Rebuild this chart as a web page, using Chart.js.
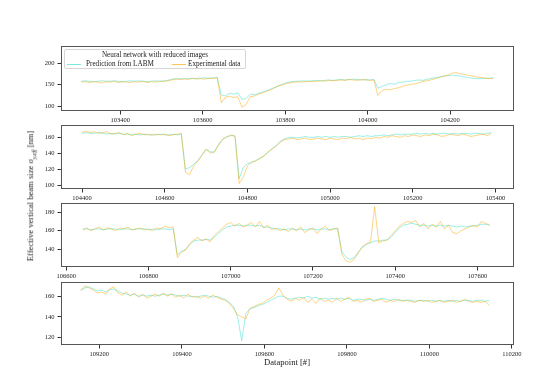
<!DOCTYPE html>
<html><head><meta charset="utf-8">
<script src="https://cdn.jsdelivr.net/npm/chart.js@4"></script>
<style>
html,body{margin:0;padding:0;background:#fff;}
#wrap{position:relative;width:560px;height:387px;overflow:hidden;font-family:'Liberation Serif','DejaVu Serif',serif;color:#222;}
canvas{position:absolute;left:0;}
#ylab{position:absolute;left:31px;top:196px;transform:translate(-50%,-50%) rotate(-90deg);white-space:nowrap;font-size:8.6px;}
#ylab sub{font-size:6px;}
#xlab{position:absolute;left:287px;top:362px;transform:translate(-50%,-50%);white-space:nowrap;font-size:8.6px;}
#legend{position:absolute;left:64px;top:49px;width:182px;height:20px;border:1px solid #d6d6d6;border-radius:2px;background:rgba(255,255,255,0.85);font-size:7.2px;box-sizing:border-box;}
#legend .title{position:absolute;left:0;width:100%;top:1px;text-align:center;}
#legend .item{position:absolute;top:10px;white-space:nowrap;}
#legend .ln{position:absolute;top:5px;height:0;border-top:1px solid;}
</style></head>
<body>
<div id="wrap">
  <canvas id="c1" width="560" height="90"></canvas>
  <canvas id="c2" width="560" height="90"></canvas>
  <canvas id="c3" width="560" height="90"></canvas>
  <canvas id="c4" width="560" height="90"></canvas>
  <div id="legend">
    <div class="title">Neural network with reduced images</div>
    <div class="ln" style="left:2px;width:14px;top:13.5px;border-color:rgba(64,224,208,0.7)"></div>
    <div class="item" style="left:21px">Prediction from LABM</div>
    <div class="ln" style="left:107px;width:14px;top:13.5px;border-color:rgba(255,165,0,0.65)"></div>
    <div class="item" style="left:123px">Experimental data</div>
  </div>
  <div id="ylab">Effective vertical beam size <i>σ</i><sub><i>y,eff</i></sub> [nm]</div>
  <div id="xlab">Datapoint [#]</div>
</div>
<script>
const STEP = 10;
const p1Start = 103305, p2Start = 104400, p3Start = 106640, p4Start = 109155;

const p1Pred = [158,159,158,157,158,159,158,158,159,158,157,158,159,158,159,158,157,158,159,158,159,160,
163,164,164,163,165,164,165,165,166,165,166,167,
126,124,130,128,131,116,118,128,
127,130,133,136,140,144,148,152,155,
157,158,158,159,158,159,160,159,160,161,160,161,162,161,162,163,162,161,162,161,162,
142,146,150,153,151,155,156,158,158,160,161,160,163,165,166,168,170,171,172,171,170,168,166,165,164,164,165,165,166];
const p1Exp = [156,157,155,157,156,154,157,156,158,155,157,156,155,157,156,158,155,157,156,158,157,159,
161,163,162,164,162,165,163,164,163,165,164,166,
108,121,123,120,122,98,104,122,
124,128,131,135,138,143,147,150,153,
155,156,157,156,158,157,158,159,158,160,159,160,161,160,162,161,160,162,161,160,161,
125,137,139,138,141,143,146,149,151,152,155,158,159,162,164,167,170,172,177,178,175,174,172,170,168,167,165,164,165];

const p2Pred = [165,166,165,165,166,165,164,165,164,165,164,164,163,164,163,164,163,164,163,164,163,163,164,163,164,
120,122,126,131,138,145,142,141,150,157,161,162,162,
108,122,127,128,131,133,137,141,146,150,155,158,
160,160,159,160,161,160,160,161,160,161,160,161,160,161,161,160,161,162,161,162,
161,162,162,163,162,163,164,163,164,164,164,165,164,165,164,165,164,165,165,164,
165,164,165,165,164,165,165,164,165,166];
const p2Exp = [166,168,166,167,165,166,167,164,165,166,163,165,162,164,165,163,164,162,164,163,164,162,163,164,165,
116,113,124,130,137,145,140,142,151,158,160,163,161,
102,110,124,129,130,134,136,142,145,149,154,157,
158,159,157,158,159,157,158,159,158,157,159,158,157,159,158,160,158,159,157,159,
158,160,159,161,160,162,161,160,162,161,163,162,161,163,162,164,163,161,162,164,
163,162,164,163,161,162,163,164,162,165];

const p3Pred = [162,162,161,162,162,161,162,162,162,161,162,162,161,162,162,162,161,162,161,162,162,161,162,
134,138,140,145,149,150,150,151,150,153,157,161,164,165,166,166,165,166,166,165,166,164,164,163,162,162,161,162,
162,161,162,161,162,162,161,162,162,161,162,162,
138,132,129,131,137,142,145,147,149,149,150,150,153,158,163,166,167,168,167,166,
166,165,166,165,166,165,166,165,164,165,164,165,165,166,167,167,166];
const p3Exp = [161,163,160,162,164,161,163,162,160,163,162,164,161,162,163,161,162,160,163,162,165,163,164,
131,137,139,146,150,153,149,151,148,155,159,163,167,169,165,168,164,166,169,164,170,163,166,161,163,160,162,159,
163,160,164,158,161,163,157,162,165,160,162,163,
135,128,126,129,136,143,146,148,186,147,149,150,155,160,165,168,170,169,171,164,
168,162,167,164,170,162,166,158,157,160,162,164,166,164,170,168,166];

const p4Pred = [166,168,169,167,165,166,164,166,167,165,163,162,161,162,160,161,160,161,160,161,
162,161,162,161,160,161,160,160,159,160,161,160,159,160,158,157,
154,150,140,117,143,148,149,151,152,154,156,158,160,160,
158,157,158,159,158,160,158,159,157,158,157,158,157,158,157,158,156,157,157,156,
157,156,157,158,157,156,157,156,156,156,156,155,156,156,155,156,155,156,155,156,
155,156,155,156,156,155,156,156,155,156];
const p4Exp = [165,170,168,166,163,164,162,167,169,163,161,164,160,163,159,162,158,160,162,160,
163,160,162,159,161,158,162,159,160,158,160,158,161,159,157,156,
153,148,142,140,138,148,150,152,153,156,158,161,168,161,
157,155,158,156,159,154,157,153,158,155,156,154,158,155,157,159,155,156,154,157,
158,155,156,157,154,156,155,157,155,156,155,154,156,155,156,154,155,156,154,155,
156,154,155,157,155,154,155,154,155,151];

const p1XTicks = [103400,103600,103800,104000,104200];
const p2XTicks = [104400,104600,104800,105000,105200,105400];
const p3XTicks = [106600,106800,107000,107200,107400,107600];
const p4XTicks = [109200,109400,109600,109800,110000,110200];
const p1YTicks = [100,150,200];
const p2YTicks = [100,120,140,160];
const p3YTicks = [140,160,180];
const p4YTicks = [120,140,160];

// ---- drawing ----
const FONT = "'Liberation Serif','DejaVu Serif',serif";
const CYAN = 'rgba(64,224,208,0.7)';
const ORANGE = 'rgba(255,165,0,0.65)';
const PAD_TOP = 6, XAX_H = 18, Y_W = 61, RIGHT = 46;

const framePlugin = {
  id: 'frame',
  afterDraw(chart) {
    const a = chart.chartArea, ctx = chart.ctx;
    ctx.save();
    ctx.strokeStyle = '#555';
    ctx.lineWidth = 1;
    ctx.strokeRect(Math.round(a.left) + 0.5, Math.round(a.top) + 0.5,
                   Math.round(a.right - a.left) - 1, Math.round(a.bottom - a.top) - 1);
    ctx.restore();
  }
};

function toPts(start, arr) { return arr.map((v, i) => ({x: start + i * STEP, y: v})); }

function panel(id, plotTop, plotBottom, start, pred, exp, xMin, xMax, yMin, yMax, xTicks, yTicks) {
  const cv = document.getElementById(id);
  const h = (plotBottom - plotTop) + PAD_TOP + XAX_H;
  cv.height = Math.round(h);
  cv.style.top = (plotTop - PAD_TOP) + 'px';
  cv.style.width = '560px';
  cv.style.height = Math.round(h) + 'px';
  new Chart(cv, {
    type: 'line',
    data: {
      datasets: [
        {label: 'Prediction from LABM', data: toPts(start, pred), borderColor: CYAN, borderWidth: 0.75, pointRadius: 0, order: 1},
        {label: 'Experimental data', data: toPts(start, exp), borderColor: ORANGE, borderWidth: 0.75, pointRadius: 0, order: 0}
      ]
    },
    options: {
      responsive: false, animation: false, devicePixelRatio: 1,
      layout: {padding: {top: PAD_TOP, right: RIGHT, left: 0, bottom: 0}},
      plugins: {legend: {display: false}, tooltip: {enabled: false}},
      scales: {
        x: {
          type: 'linear', min: xMin, max: xMax,
          afterBuildTicks: s => { s.ticks = xTicks.map(v => ({value: v})); },
          afterFit: s => { s.height = XAX_H; },
          border: {display: false},
          grid: {display: true, drawOnChartArea: false, drawTicks: true, tickLength: 3.5, tickColor: '#333'},
          ticks: {autoSkip: false, maxRotation: 0, padding: 2, color: '#222', font: {family: FONT, size: 6.5},
                  callback: v => String(v)}
        },
        y: {
          min: yMin, max: yMax,
          afterBuildTicks: s => { s.ticks = yTicks.map(v => ({value: v})); },
          afterFit: s => { s.width = Y_W; },
          border: {display: false},
          grid: {display: true, drawOnChartArea: false, drawTicks: true, tickLength: 3.5, tickColor: '#333'},
          ticks: {autoSkip: false, padding: 3, color: '#222', font: {family: FONT, size: 6.5},
                  callback: v => String(v)}
        }
      }
    },
    plugins: [framePlugin]
  });
}

panel('c1', 45, 111, p1Start, p1Pred, p1Exp, 103256, 104355, 89, 240, p1XTicks, p1YTicks);
panel('c2', 124, 189, p2Start, p2Pred, p2Exp, 104349, 105445, 95, 175.6, p2XTicks, p2YTicks);
panel('c3', 202, 267, p3Start, p3Pred, p3Exp, 106587, 107689, 121, 190, p3XTicks, p3YTicks);
panel('c4', 281, 345, p4Start, p4Pred, p4Exp, 109107, 110205, 112.8, 173.8, p4XTicks, p4YTicks);
</script>
</body></html>
